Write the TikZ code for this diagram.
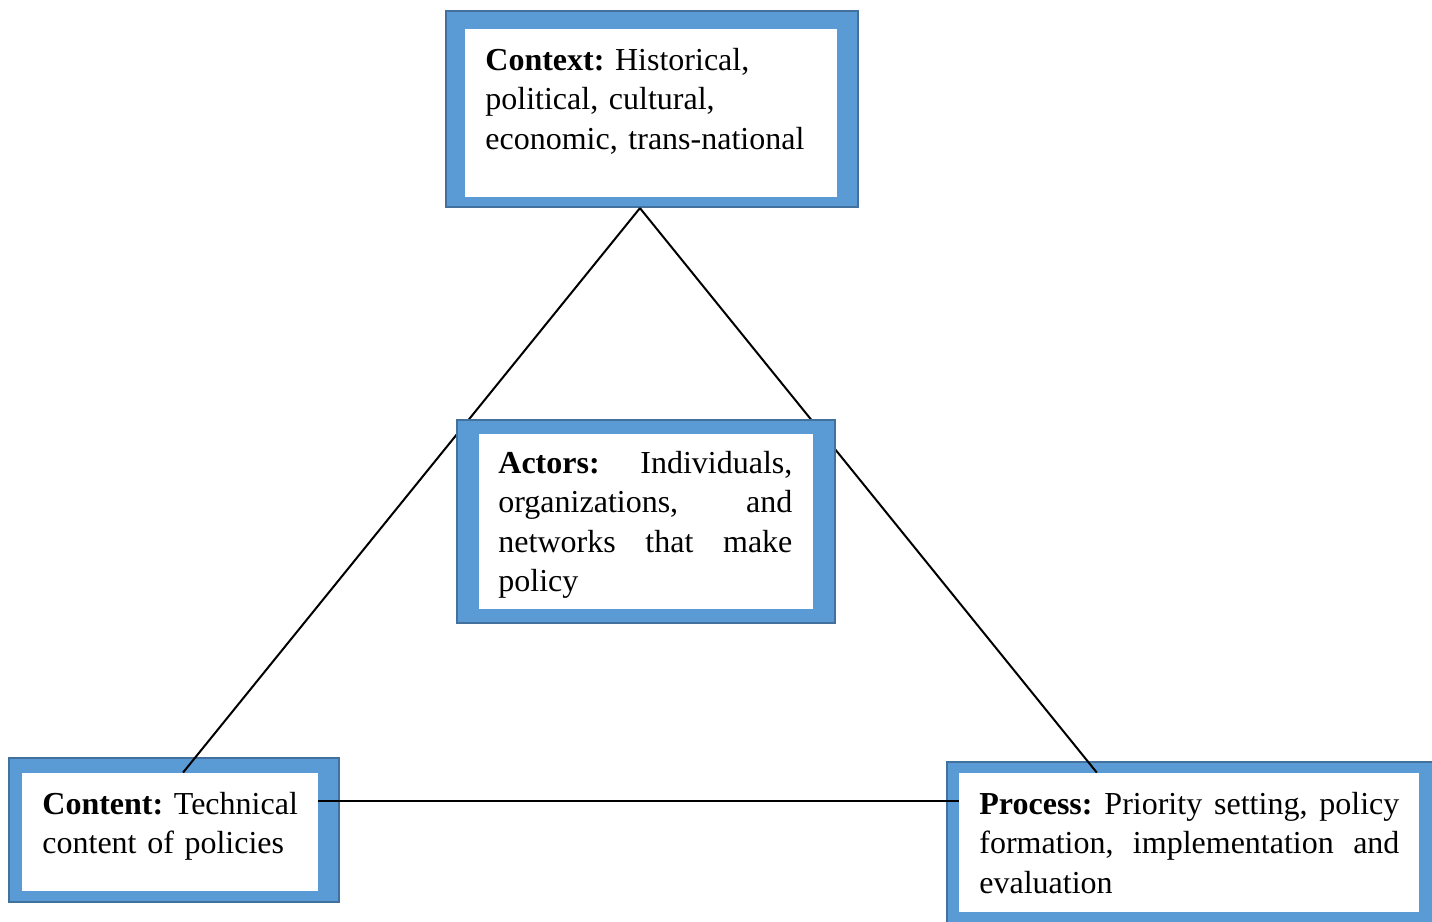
\documentclass[tikz,border=0pt]{standalone}
\usepackage{fontspec}
\setmainfont{Liberation Serif}
\usetikzlibrary{calc}
\definecolor{boxblue}{HTML}{5B9BD5}
\definecolor{boxedge}{HTML}{41719C}
\pgfdeclarelayer{back}
\pgfdeclarelayer{mid}
\pgfsetlayers{back,mid,main}
\frenchspacing
\tikzset{
  outerbox/.style={rectangle, fill=boxblue, draw=boxedge, line width=1.1pt, inner sep=0pt},
  innerbox/.style={rectangle, fill=white, inner sep=0pt},
  boxtext/.style={anchor=base west, inner sep=0pt, align=left,
    font=\fontsize{16}{19.8}\selectfont},
  conn/.style={draw=black, line width=1pt}
}
\begin{document}
\begin{tikzpicture}[x=0.5pt,y=-0.5pt]
\useasboundingbox (0,0) rectangle (1432,922);
% outer blue frames
\begin{pgfonlayer}{back}
\node[outerbox, minimum width=206pt, minimum height=98pt] (ctxO) at (652,109) {};
\node[outerbox, minimum width=165pt, minimum height=72pt] (conO) at (174,830) {};
\node[outerbox, minimum width=247.5pt, minimum height=85pt] (proO) at (1194.5,847) {};
\end{pgfonlayer}
% inner white panels
\node[innerbox, minimum width=186pt, minimum height=84pt] (ctxI) at (651,113) {};
\node[innerbox, minimum width=148pt, minimum height=59pt] (conI) at (170,832) {};
\node[innerbox, minimum width=230pt, minimum height=69.5pt] (proI) at (1189,842.5) {};
% connectors (triangle)
\begin{pgfonlayer}{mid}
\coordinate (apex) at ($(ctxO.south west)!0.4709!(ctxO.south east)$);
\coordinate (lfoot) at ($(conI.north west)!0.5439!(conI.north east)$);
\coordinate (rfoot) at ($(proI.north west)!0.3!(proI.north east)$);
\coordinate (hl) at ($(conI.north east)!0.237!(conI.south east)$);
\draw[conn] (apex) -- (lfoot);
\draw[conn] (apex) -- (rfoot);
\draw[conn] (hl) -- (hl -| proI.west);
\end{pgfonlayer}
% actors box on top of the connectors
\node[outerbox, minimum width=189pt, minimum height=101.5pt] (actO) at (646,521.5) {};
\node[innerbox, minimum width=167pt, minimum height=87.5pt] (actI) at (646,521.5) {};
% texts
\node[boxtext, text width=170pt] (ctxT) at (485,70)
  {\textbf{Context:} Historical,\\political, cultural,\\economic, trans-national};
\node[boxtext, text width=140pt] (conT) at (42,814)
  {\textbf{Content:} Technical\\content of policies};
\node[boxtext, text width=147pt] (actT) at (498,473)
  {\makebox[147pt][s]{\textbf{Actors:}\hfill Individuals,}\\
   \makebox[147pt][s]{organizations,\hfill and}\\
   \makebox[147pt][s]{networks\hfill that\hfill make}\\
   policy};
\node[boxtext, text width=210pt] (proT) at (979,814)
  {\makebox[210pt][s]{\textbf{Process:}\hfill Priority\hfill setting,\hfill policy}\\
   \makebox[210pt][s]{formation,\hfill implementation\hfill and}\\
   evaluation};
\end{tikzpicture}
\end{document}
